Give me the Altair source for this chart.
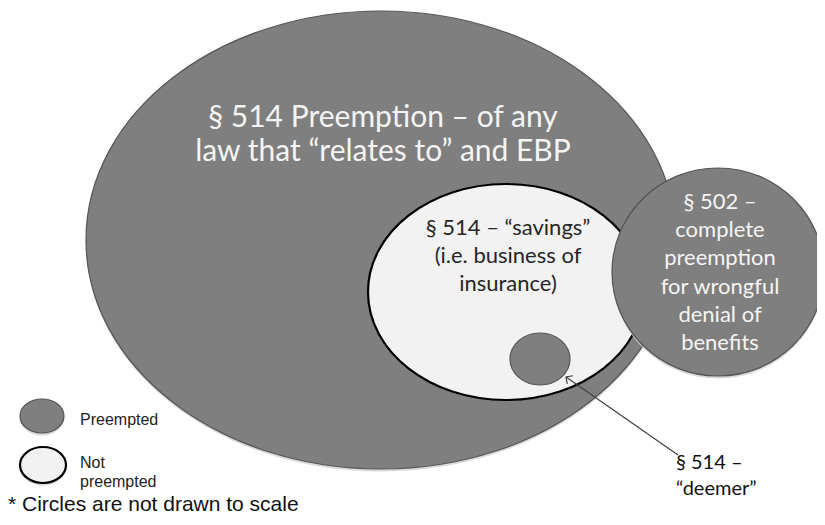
import altair as alt
import pandas as pd

# ---- diagram data (reference pixel space) ----
circle_names = ["§ 514 preemption", "§ 514 savings", "§ 514 deemer", "§ 502 complete preemption"]
circle_cx = [381, 506, 540, 718]
circle_cy = [240, 292, 359, 272]
circle_rx = [295, 138, 30, 106]
circle_ry = [229, 108, 26, 104]
circle_status = ["Preempted", "Not preempted", "Preempted", "Preempted"]

big_lines = ["§ 514 Preemption – of any", "law that “relates to” and EBP"]
big_line_y = [118, 152]
savings_lines = ["§ 514 – “savings”", "(i.e. business of", "insurance)"]
savings_line_y = [228, 256, 284]
s502_lines = ["§ 502 –", "complete", "preemption", "for wrongful", "denial of", "benefits"]
s502_line_y = [202, 230, 258, 287, 315, 343]
deemer_lines = ["§ 514 –", "“deemer”"]
deemer_line_y = [463, 489]
deemer_x = 676
arrow_tail = (678, 455)
arrow_tip = (566, 377)

legend_status = ["Preempted", "Not preempted"]
legend_cx = [42, 43]
legend_cy = [416, 465]
legend_rx = [22, 23]
legend_ry = [17, 18]
legend_text = ["Preempted", "Not", "preempted"]
legend_text_y = [420, 463, 482]
legend_text_x = 80

footnote = "* Circles are not drawn to scale"

FILL = {"Preempted": "#7f7f7f", "Not preempted": "#f2f2f2"}
STROKE = {"Preempted": "#555555", "Not preempted": "#000000"}
SW = {"Preempted": 1.2, "Not preempted": 2.2}

xs = alt.Scale(domain=[8, 817], nice=False, zero=False)
ys = alt.Scale(domain=[8, 517], reverse=True, nice=False, zero=False)


def ellipse_path(k):
    return f"M -1 0 A 1 {k:.4f} 0 1 1 1 0 A 1 {k:.4f} 0 1 1 -1 0 Z"


def ellipse_layer(cx, cy, rx, ry, status, shadow=False):
    df = pd.DataFrame({"cx": [cx], "cy": [cy], "rx": [rx]})
    if shadow:
        mark = alt.Chart(df).mark_point(
            shape=ellipse_path(ry / rx), filled=True, fill="#cfcfcf",
            strokeOpacity=0, opacity=0.8, fillOpacity=1,
        ).transform_calculate(cys="datum.cy + 2.5")
        ycol = "cys:Q"
    else:
        mark = alt.Chart(df).mark_point(
            shape=ellipse_path(ry / rx), filled=True, fill=FILL[status],
            stroke=STROKE[status], strokeWidth=SW[status], opacity=1,
            fillOpacity=1, strokeOpacity=1,
        )
        ycol = "cy:Q"
    return mark.transform_calculate(sz="pow(2*datum.rx, 2)").encode(
        x=alt.X("cx:Q", scale=xs, axis=None),
        y=alt.Y(ycol, scale=ys, axis=None),
        size=alt.Size("sz:Q", scale=None, legend=None),
    )


def text_layer(lines, xs_list, ys_list, size, color, font, align="center", baseline="middle"):
    df = pd.DataFrame({"t": lines, "x": xs_list, "y": ys_list})
    return alt.Chart(df).mark_text(
        fontSize=size, color=color, font=font, align=align, baseline=baseline
    ).encode(
        x=alt.X("x:Q", scale=xs, axis=None),
        y=alt.Y("y:Q", scale=ys, axis=None),
        text="t:N",
    )


layers = []
for i in range(len(circle_names)):
    if circle_status[i] == "Preempted" and circle_rx[i] > 50:
        layers.append(ellipse_layer(circle_cx[i], circle_cy[i], circle_rx[i], circle_ry[i], circle_status[i], shadow=True))
    layers.append(ellipse_layer(circle_cx[i], circle_cy[i], circle_rx[i], circle_ry[i], circle_status[i]))
for i in range(len(legend_status)):
    layers.append(ellipse_layer(legend_cx[i], legend_cy[i], legend_rx[i], legend_ry[i], legend_status[i], shadow=True))
    layers.append(ellipse_layer(legend_cx[i], legend_cy[i], legend_rx[i], legend_ry[i], legend_status[i]))

# arrow
arrow_df = pd.DataFrame({"x": [arrow_tail[0]], "y": [arrow_tail[1]], "x2": [arrow_tip[0]], "y2": [arrow_tip[1]]})
layers.append(alt.Chart(arrow_df).mark_rule(color="#404040", strokeWidth=1.2).encode(
    x=alt.X("x:Q", scale=xs, axis=None), y=alt.Y("y:Q", scale=ys, axis=None), x2="x2:Q", y2="y2:Q"))
layers.append(alt.Chart(arrow_df).mark_point(
    shape="M -1 -1 L 0 0 L -1 1", filled=False, stroke="#404040", strokeWidth=1.2, size=100,
    angle=215, opacity=1).encode(
    x=alt.X("x2:Q", scale=xs, axis=None), y=alt.Y("y2:Q", scale=ys, axis=None)))

layers.append(text_layer(big_lines, [383] * 2, big_line_y, 30, "#f4f4f4", "Lato"))
layers.append(text_layer(savings_lines, [508] * 3, savings_line_y, 22, "#262626", "Lato"))
layers.append(text_layer(s502_lines, [720] * 6, s502_line_y, 22, "#f4f4f4", "Lato"))
layers.append(text_layer(deemer_lines, [deemer_x] * 2, deemer_line_y, 20, "#111111", "Lato", align="left"))
layers.append(text_layer(legend_text, [legend_text_x] * 3, legend_text_y, 16, "#222222", "Liberation Sans", align="left"))
layers.append(text_layer([footnote], [8], [511], 21, "#111111", "Liberation Sans", align="left", baseline="alphabetic"))

chart = alt.layer(*layers).properties(
    width=809, height=509, padding=0, autosize=alt.AutoSizeParams(type="none")
).configure_view(stroke=None)

chart.save("out.html", embed_options={"renderer": "svg", "actions": False})
